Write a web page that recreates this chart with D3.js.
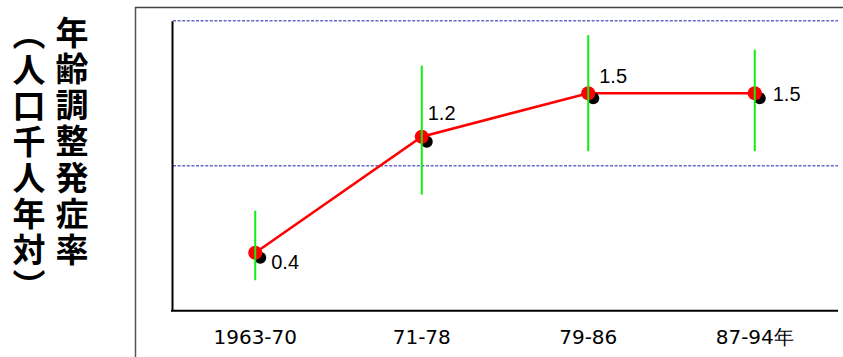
<!DOCTYPE html>
<html>
<head>
<meta charset="utf-8">
<script src="https://cdn.jsdelivr.net/npm/d3@7"></script>
<style>
  html, body { margin: 0; padding: 0; background: #fff; }
  svg { display: block; }
</style>
</head>
<body>
<svg id="chart" width="843" height="357"></svg>
<script>
// Age-adjusted incidence rate per 1,000 person-years, by period
const periods = ["1963-70", "71-78", "79-86", "87-94年"];
const rates = [0.4, 1.2, 1.5, 1.5];
const ciLow = [0.21, 0.80, 1.10, 1.10];
const ciHigh = [0.69, 1.69, 1.90, 1.80];
const gridValues = [1, 2];
const titleMain = "年齢調整発症率";
const titleUnit = "（人口千人年対）";

// label placement next to each point (dx, dy of the baseline)
const labelOffsets = [[16, 16], [6, -17], [11, -10], [18, 8]];

const svg = d3.select("#chart");
const plot = { left: 172, right: 838, top: 20.7, bottom: 310.7 };

const x = d3.scaleBand().domain(periods).range([plot.left, plot.right]).padding(0);
const y = d3.scaleLinear().domain([0, 2]).range([plot.bottom, plot.top]);

// outer frame
svg.append("line").attr("x1", 135.5).attr("x2", 135.5).attr("y1", 7).attr("y2", 357)
  .attr("stroke", "#555").attr("stroke-width", 1.5);
svg.append("line").attr("x1", 135).attr("x2", 843).attr("y1", 7.5).attr("y2", 7.5)
  .attr("stroke", "#444").attr("stroke-width", 1.5);

// dashed reference lines
svg.append("g").selectAll("line").data(gridValues).join("line")
  .attr("x1", plot.left + 1).attr("x2", plot.right)
  .attr("y1", d => y(d)).attr("y2", d => y(d))
  .attr("stroke", "#6666c4").attr("stroke-width", 1.4).attr("stroke-dasharray", "3,1.6");

// axes
const yAxis = svg.append("g").attr("transform", `translate(${plot.left},0)`)
  .call(d3.axisLeft(y).tickValues([]).tickSizeOuter(0));
yAxis.select(".domain").attr("stroke", "#000").attr("stroke-width", 2);

const xAxis = svg.append("g").attr("transform", `translate(0,${plot.bottom})`)
  .call(d3.axisBottom(x).tickSize(0).tickSizeOuter(0));
xAxis.select(".domain").attr("stroke", "#000").attr("stroke-width", 2)
  .attr("d", `M${plot.left - 1},0H${plot.right}`);
xAxis.selectAll(".tick text")
  .attr("y", 33).attr("dy", 0)
  .attr("font-family", "'DejaVu Sans', sans-serif").attr("font-size", 20).attr("fill", "#000");

const cx = d => x(d) + x.bandwidth() / 2;

// trend line
svg.append("path").datum(periods)
  .attr("fill", "none").attr("stroke", "#ff0000").attr("stroke-width", 2.5)
  .attr("d", d3.line().x(cx).y((d, i) => y(rates[i])));

// point markers: dark shadow under a red dot
svg.append("g").selectAll("circle").data(periods).join("circle")
  .attr("cx", d => cx(d) + 5).attr("cy", (d, i) => y(rates[i]) + 5).attr("r", 6).attr("fill", "#000");
svg.append("g").selectAll("circle").data(periods).join("circle")
  .attr("cx", cx).attr("cy", (d, i) => y(rates[i])).attr("r", 7).attr("fill", "#ff0000");

// confidence intervals
svg.append("g").selectAll("line").data(periods).join("line")
  .attr("x1", cx).attr("x2", cx)
  .attr("y1", (d, i) => y(ciHigh[i])).attr("y2", (d, i) => y(ciLow[i]))
  .attr("stroke", "#11ee11").attr("stroke-width", 2);

// value labels
svg.append("g").selectAll("text").data(periods).join("text")
  .attr("x", (d, i) => cx(d) + labelOffsets[i][0])
  .attr("y", (d, i) => y(rates[i]) + labelOffsets[i][1])
  .attr("font-family", "'Liberation Sans', Arial, sans-serif").attr("font-size", 20)
  .text((d, i) => rates[i].toFixed(1));

// vertical axis title, two columns written top to bottom
const titleFont = "'Noto Sans CJK JP', sans-serif";
const titleCols = [
  { text: titleMain, x: 72, y: 15.5, spacing: 3.3 },
  { text: titleUnit, x: 29, y: 16.5, spacing: 3 }
];
svg.append("g").selectAll("text").data(titleCols).join("text")
  .attr("x", d => d.x).attr("y", d => d.y)
  .style("writing-mode", "vertical-rl")
  .style("letter-spacing", d => d.spacing + "px")
  .attr("font-family", titleFont).attr("font-weight", 700).attr("font-size", 33)
  .text(d => d.text);
</script>
</body>
</html>
